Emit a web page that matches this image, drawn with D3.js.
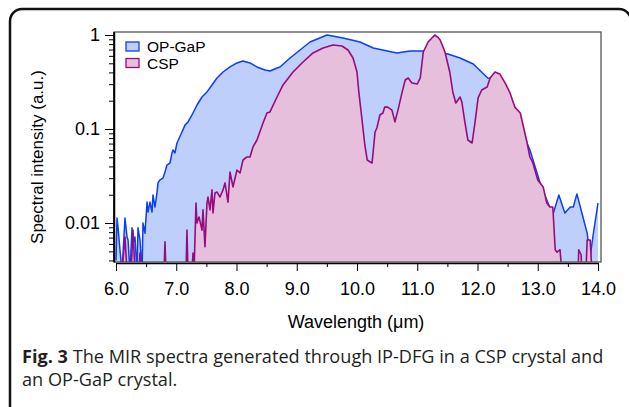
<!DOCTYPE html>
<html>
<head>
<meta charset="utf-8">
<script src="https://cdn.jsdelivr.net/npm/d3@7"></script>
<style>
  body { margin: 0; background: #fff; }
  svg { display: block; }
</style>
</head>
<body>
<div id="chart"></div>
<script>
// OP-GaP spectrum (wavelength in um, intensity a.u.)
var opgapWl = [6.00, 6.017, 6.033, 6.066, 6.10, 6.149, 6.183, 6.20, 6.232, 6.266, 6.282, 6.315, 6.349, 6.365, 6.398, 6.432,
  6.448, 6.481, 6.515, 6.531, 6.564, 6.598, 6.614, 6.647, 6.680, 6.697, 6.730, 6.780, 6.813, 6.846, 6.896, 6.929, 6.946,
  6.979, 7.012, 7.095, 7.145, 7.195, 7.261, 7.344, 7.427, 7.510, 7.593, 7.676, 7.776, 7.892, 8.008, 8.108, 8.224, 8.340,
  8.473, 8.556, 8.672, 8.722, 8.888, 9.054, 9.220, 9.502, 9.768, 10.05, 10.27, 10.66, 10.88, 11.10, 11.51, 11.71, 11.93,
  12.17, 12.37, 12.62, 12.82, 12.87, 12.92, 13.04, 13.15, 13.25, 13.35, 13.45, 13.54, 13.59, 13.65, 13.75, 13.82, 13.87,
  13.92, 14.00];
var opgapInt = [0.004, 0.0113, 0.0091, 0.0052, 0.003, 0.0113, 0.0071, 0.0066, 0.003, 0.0089, 0.0061, 0.0071, 0.003, 0.0089,
  0.0066, 0.003, 0.010, 0.0078, 0.0167, 0.0131, 0.0167, 0.0131, 0.0199, 0.0148, 0.0209, 0.0267, 0.0287, 0.0301, 0.0349,
  0.0414, 0.0435, 0.0556, 0.0598, 0.0556, 0.071, 0.093, 0.110, 0.119, 0.141, 0.180, 0.219, 0.248, 0.294, 0.349, 0.404,
  0.457, 0.504, 0.529, 0.504, 0.457, 0.424, 0.414, 0.446, 0.457, 0.569, 0.692, 0.842, 1.0, 0.93, 0.842, 0.727, 0.644,
  0.676, 0.676, 0.628, 0.569, 0.491, 0.349, 0.33, 0.159, 0.071, 0.060, 0.047, 0.0267, 0.0176, 0.0122, 0.0199, 0.0128,
  0.0148, 0.0148, 0.0204, 0.0116, 0.0078, 0.0044, 0.0075, 0.0163];

// CSP spectrum
var cspWl = [6.10, 6.149, 6.183, 6.25, 6.282, 6.315, 6.38, 6.398, 6.415, 6.797, 6.813, 6.83, 7.162, 7.178, 7.195, 7.261,
  7.278, 7.295, 7.328, 7.344, 7.378, 7.427, 7.444, 7.477, 7.510, 7.527, 7.560, 7.593, 7.610, 7.643, 7.676, 7.726, 7.776,
  7.809, 7.859, 7.892, 7.942, 8.008, 8.058, 8.108, 8.174, 8.224, 8.274, 8.340, 8.440, 8.506, 8.556, 8.672, 8.772, 8.938,
  9.104, 9.270, 9.436, 9.602, 9.751, 9.851, 9.934, 10.00, 10.03, 10.08, 10.13, 10.17, 10.22, 10.25, 10.30, 10.33, 10.38,
  10.43, 10.46, 10.51, 10.58, 10.63, 10.68, 10.75, 10.80, 10.85, 10.91, 11.00, 11.05, 11.10, 11.18, 11.29, 11.34, 11.38,
  11.46, 11.54, 11.59, 11.64, 11.71, 11.74, 11.79, 11.84, 11.91, 11.96, 12.01, 12.07, 12.16, 12.21, 12.29, 12.37, 12.46,
  12.54, 12.62, 12.71, 12.82, 12.87, 12.92, 13.00, 13.09, 13.15, 13.20, 13.25, 13.29, 13.32, 13.37, 13.40, 13.67, 13.68,
  13.72, 13.73, 13.80, 13.82, 13.87, 13.90];
var cspInt = [0.003, 0.0071, 0.003, 0.003, 0.0084, 0.003, 0.003, 0.0048, 0.003, 0.003, 0.0063, 0.003, 0.003, 0.0084, 0.003,
  0.003, 0.0048, 0.003, 0.0163, 0.010, 0.0116, 0.0084, 0.0138, 0.0056, 0.0163, 0.0189, 0.0138, 0.0225, 0.0128, 0.0209,
  0.0214, 0.0189, 0.0225, 0.0267, 0.0167, 0.0349, 0.0242, 0.0366, 0.034, 0.0468, 0.0504, 0.0504, 0.0644, 0.0764, 0.116,
  0.148, 0.152, 0.219, 0.294, 0.404, 0.516, 0.644, 0.727, 0.783, 0.764, 0.692, 0.569, 0.404, 0.248, 0.131, 0.0676, 0.0468,
  0.0446, 0.0435, 0.093, 0.1025, 0.141, 0.148, 0.171, 0.171, 0.159, 0.119, 0.159, 0.248, 0.332, 0.349, 0.308, 0.301,
  0.349, 0.659, 0.842, 1.0, 0.95, 0.885, 0.659, 0.404, 0.248, 0.189, 0.219, 0.194, 0.119, 0.0764, 0.071, 0.119, 0.214,
  0.260, 0.280, 0.349, 0.404, 0.385, 0.308, 0.242, 0.171, 0.148, 0.0728, 0.0504, 0.0435, 0.0287, 0.0242, 0.0163, 0.0148,
  0.0148, 0.0052, 0.0049, 0.0052, 0.003, 0.003, 0.0052, 0.0046, 0.003, 0.003, 0.0066, 0.0066, 0.003];

var xTicks = [6, 7, 8, 9, 10, 11, 12, 13, 14];
var yTicks = [1, 0.1, 0.01];
var seriesNames = ["OP-GaP", "CSP"];

var W = 629, H = 407;
var plot = { left: 114, right: 601, top: 32, bottom: 262 };

var svg = d3.select("#chart").append("svg")
    .attr("width", W)
    .attr("height", H)
    .style("font-family", "'Liberation Sans', Arial, Helvetica, sans-serif");

// rounded frame (right side runs off the picture)
svg.append("rect")
    .attr("x", 10).attr("y", 9)
    .attr("width", 621).attr("height", 440)
    .attr("rx", 12)
    .attr("fill", "none")
    .attr("stroke", "#111")
    .attr("stroke-width", 2.5);

var x = d3.scaleLinear().domain([6, 14]).range([116, 598]);
var y = d3.scaleLog().domain([0.00385, 1.076]).range([plot.bottom, plot.top]);

svg.append("clipPath").attr("id", "clip")
    .append("rect")
    .attr("x", plot.left).attr("y", plot.top)
    .attr("width", plot.right - plot.left).attr("height", plot.bottom - plot.top);

var opgap = opgapWl.map((w, i) => ({ w: w, v: opgapInt[i] }));
var csp = cspWl.map((w, i) => ({ w: w, v: cspInt[i] }));

var yv = d => y(Math.max(d.v, 0.002));

var area = d3.area().x(d => x(d.w)).y0(plot.bottom + 2).y1(yv);
var line = d3.line().x(d => x(d.w)).y(yv);

var g = svg.append("g").attr("clip-path", "url(#clip)");

// OP-GaP
g.append("path").datum(opgap)
    .attr("d", area)
    .attr("fill", "#bfcffb");
g.append("path").datum(opgap)
    .attr("d", line)
    .attr("fill", "none")
    .attr("stroke", "#0b3ef7")
    .attr("stroke-width", 1.5)
    .attr("stroke-linejoin", "round");

// CSP
g.append("path").datum(csp)
    .attr("d", area)
    .attr("fill", "#e5bfdc");
g.append("path").datum(csp)
    .attr("d", line)
    .attr("fill", "none")
    .attr("stroke", "#990a7c")
    .attr("stroke-width", 1.6)
    .attr("stroke-linejoin", "round");

// plot frame
svg.append("rect")
    .attr("x", plot.left).attr("y", plot.top)
    .attr("width", plot.right - plot.left).attr("height", plot.bottom - plot.top)
    .attr("fill", "none")
    .attr("stroke", "#555")
    .attr("stroke-width", 1.3);

// y axis
var minorY = [];
[0.001, 0.01, 0.1].forEach(function (d) {
    for (var k = 2; k <= 9; k++) {
        var v = d * k;
        if (v >= 0.00385 && v <= 1) minorY.push(v);
    }
});

svg.append("g")
    .attr("transform", "translate(" + plot.left + ",0)")
    .call(d3.axisLeft(y).tickValues(minorY).tickSize(5).tickSizeOuter(0).tickFormat(""))
    .call(g => g.select(".domain").remove());

var yAxis = svg.append("g")
    .attr("transform", "translate(" + plot.left + ",0)")
    .call(d3.axisLeft(y).tickValues(yTicks).tickSize(9).tickSizeOuter(0).tickPadding(5)
        .tickFormat(d => d === 1 ? "1" : String(d)));
yAxis.select(".domain").attr("stroke", "#000").attr("stroke-width", 1.5);
yAxis.selectAll("text").style("font-size", "18px").attr("fill", "#000");

svg.append("line")
    .attr("x1", plot.left).attr("x2", plot.left)
    .attr("y1", plot.top).attr("y2", plot.bottom)
    .attr("stroke", "#000").attr("stroke-width", 1.5);

// x axis
var minorX = d3.range(6.5, 14, 1);
svg.append("g")
    .attr("transform", "translate(0,263)")
    .call(d3.axisBottom(x).tickValues(minorX).tickSize(4).tickSizeOuter(0).tickFormat(""))
    .call(g => g.select(".domain").remove());

var xAxis = svg.append("g")
    .attr("transform", "translate(0,263)")
    .call(d3.axisBottom(x).tickValues(xTicks).tickSize(8).tickSizeOuter(0).tickPadding(11)
        .tickFormat(d3.format(".1f")));
xAxis.select(".domain").attr("stroke", "#000").attr("stroke-width", 1.3);
xAxis.selectAll("text").style("font-size", "18px").attr("fill", "#000");

// axis titles
svg.append("text")
    .attr("transform", "translate(43,157) rotate(-90)")
    .attr("text-anchor", "middle")
    .style("font-size", "17px")
    .text("Spectral intensity (a.u.)");

svg.append("text")
    .attr("x", 356)
    .attr("y", 328)
    .attr("text-anchor", "middle")
    .style("font-size", "18px")
    .text("Wavelength (\u03bcm)");

// legend
var legendColors = [["#bfcffb", "#0b3ef7"], ["#e5bfdc", "#990a7c"]];
seriesNames.forEach(function (name, i) {
    var ly = 42 + i * 16.5;
    svg.append("rect")
        .attr("x", 126).attr("y", ly)
        .attr("width", 13).attr("height", 9)
        .attr("fill", legendColors[i][0])
        .attr("stroke", legendColors[i][1])
        .attr("stroke-width", 1.3);
    svg.append("text")
        .attr("x", 147).attr("y", ly + 10)
        .style("font-size", "15.5px")
        .text(name);
});

// caption
var cap = svg.append("text")
    .attr("x", 22).attr("y", 363)
    .style("font-family", "'Open Sans', 'Noto Sans', sans-serif")
    .style("font-size", "16px")
    .attr("fill", "#231f20");
cap.append("tspan").style("font-weight", "bold").text("Fig. 3");
cap.append("tspan").text(" The MIR spectra generated through IP-DFG in a CSP crystal and");

var cap2 = svg.append("text")
    .attr("x", 22).attr("y", 386)
    .style("font-family", "'Open Sans', 'Noto Sans', sans-serif")
    .style("font-size", "16px")
    .attr("fill", "#231f20")
    .text("an OP-GaP crystal.");

// fit caption width to the reference line length
var len = cap.node().getComputedTextLength();
var fs = 16 * 582 / len;
cap.style("font-size", fs + "px");
cap2.style("font-size", fs + "px");
</script>
</body>
</html>
